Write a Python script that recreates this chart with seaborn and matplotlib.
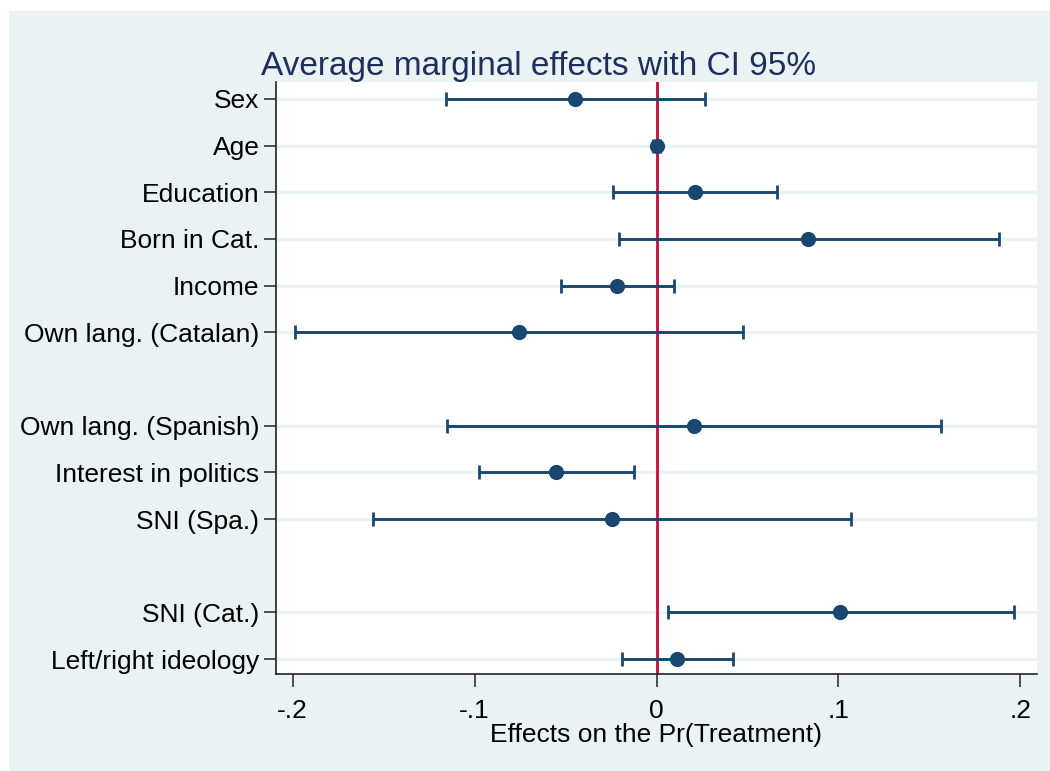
import numpy as np
import pandas as pd
import matplotlib
matplotlib.use("Agg")
import matplotlib.pyplot as plt
from matplotlib.patches import Rectangle
import seaborn as sns

# Average marginal effects (point estimate and 95% CI)
labels = ["Sex", "Age", "Education", "Born in Cat.", "Income", "Own lang. (Catalan)",
          "Own lang. (Spanish)", "Interest in politics", "SNI (Spa.)",
          "SNI (Cat.)", "Left/right ideology"]
effect = [-0.0448, 0.0000, 0.0212, 0.0832, -0.0217, -0.0755,
          0.0206, -0.0550, -0.0245, 0.1009, 0.0115]
ci_low = [-0.1157, -0.0020, -0.0239, -0.0206, -0.0525, -0.1986,
          -0.1151, -0.0975, -0.1558, 0.0065, -0.0187]
ci_high = [0.0266, 0.0020, 0.0662, 0.1882, 0.0096, 0.0475,
           0.1563, -0.0121, 0.1071, 0.1964, 0.0418]
# number of rows in each block (a blank row is left between blocks)
group_sizes = [6, 3, 2]

xticks = [-0.2, -0.1, 0, 0.1, 0.2]
xticklabels = ["-.2", "-.1", "0", ".1", ".2"]

# y positions with gaps between groups
pos = []
p = 1
for g in group_sizes:
    for i in range(g):
        pos.append(p)
        p += 1
    p += 1

df = pd.DataFrame({"label": labels, "effect": effect, "lo": ci_low,
                   "hi": ci_high, "pos": pos})

navy = "#1a476f"
bg = "#eaf2f3"
red = "#c8093b"

sns.set_theme(style="white")
plt.rcParams["font.family"] = ["Liberation Sans", "DejaVu Sans"]

fig = plt.figure(figsize=(10.5, 7.71), dpi=100)
fig.patch.set_facecolor(bg)
# thin white strips on the top and left edges
fig.patches.append(Rectangle((0, 1 - 11 / 771), 1, 11 / 771, transform=fig.transFigure,
                             facecolor="white", edgecolor="none", zorder=-10))
fig.patches.append(Rectangle((0, 0), 9 / 1050, 1, transform=fig.transFigure,
                             facecolor="white", edgecolor="none", zorder=-10))
ax = fig.add_axes([276 / 1050, 1 - 674 / 771, (1037 - 276) / 1050, (674 - 82) / 771])
ax.set_facecolor("white")

# grid lines at every row
for y in df["pos"]:
    ax.axhline(y, color=bg, lw=2.4, zorder=0)

ax.axvline(0, color=red, lw=2.0, zorder=1)

ax.errorbar(df["effect"], df["pos"],
            xerr=[df["effect"] - df["lo"], df["hi"] - df["effect"]],
            fmt="none", ecolor=navy, elinewidth=2.1, capsize=5, capthick=2.0, zorder=2)
sns.scatterplot(data=df, x="effect", y="pos", ax=ax, color=navy, s=120,
                edgecolor=navy, linewidth=0, zorder=3, legend=False)

ax.set_xlim(-0.2091, 0.2091)
ax.set_ylim(13 + 15 / 46.67, 1 - 17 / 46.67)
ax.set_yticks(df["pos"])
ax.set_yticklabels(df["label"], fontsize=19, color="black")
ax.set_xticks(xticks)
ax.set_xticklabels(xticklabels, fontsize=19, color="black")

for side in ["top", "right"]:
    ax.spines[side].set_visible(False)
for side in ["left", "bottom"]:
    ax.spines[side].set_color("#222222")
    ax.spines[side].set_linewidth(1.2)
ax.tick_params(axis="both", direction="out", length=9, width=1.2, color="#333333",
               left=True, bottom=True)
ax.tick_params(axis="x", pad=9)
ax.tick_params(axis="y", pad=3)

ax.set_xlabel("Effects on the Pr(Treatment)", fontsize=19, color="black", labelpad=0)
ax.set_ylabel("")
ax.set_title("Average marginal effects with CI 95%", fontsize=24, color="#1f2f5c",
             pad=5, x=(538.5 - 276) / (1037 - 276))

fig.savefig("out.png", dpi=100, facecolor=fig.get_facecolor())
